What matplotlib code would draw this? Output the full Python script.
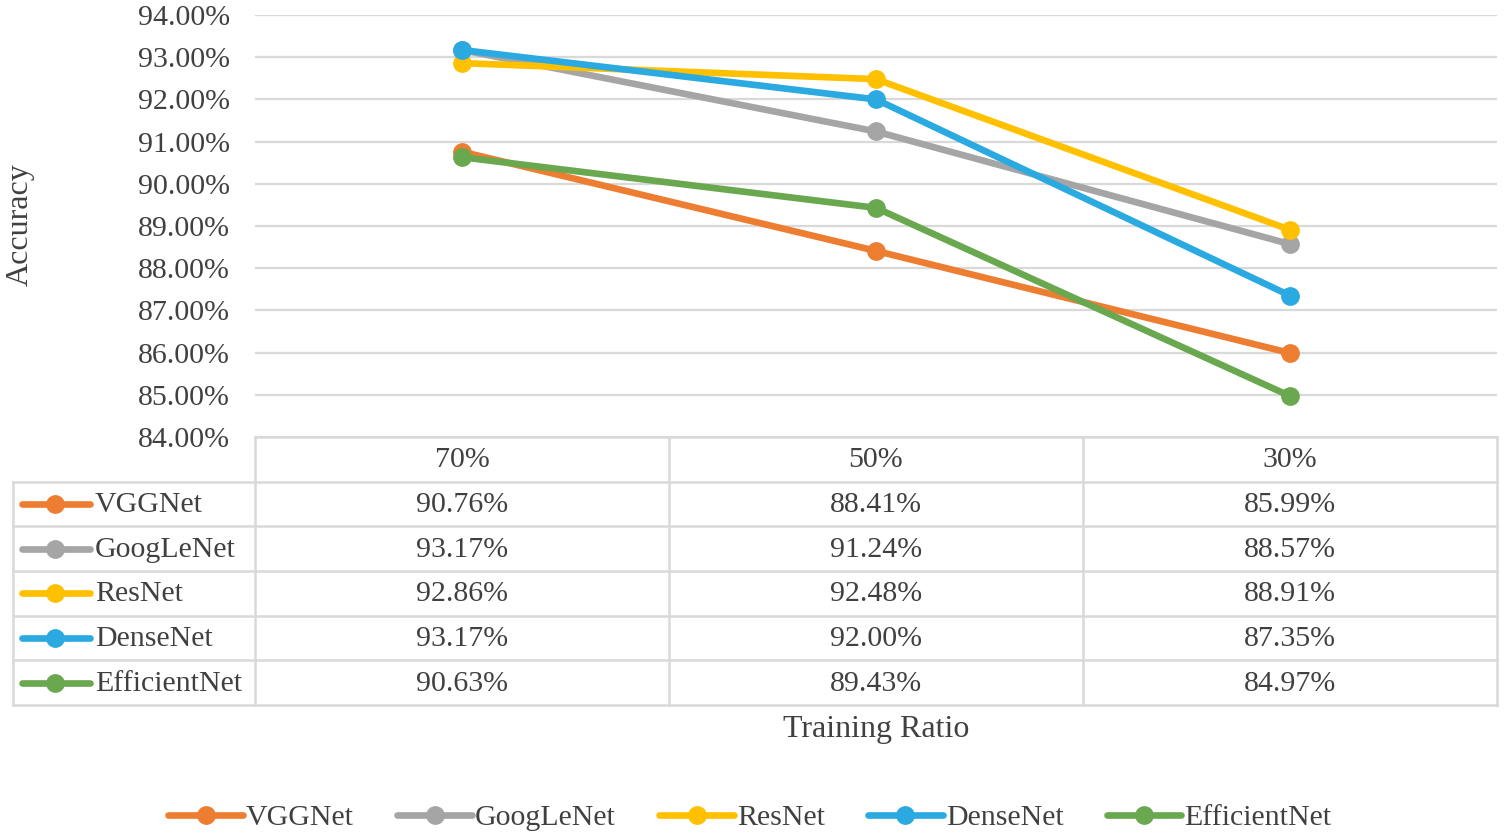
import matplotlib
matplotlib.use("Agg")
import matplotlib.pyplot as plt
from matplotlib.lines import Line2D

plt.rcParams['font.family'] = ['Liberation Serif', 'DejaVu Serif']

categories = ["70%", "50%", "30%"]
models = ["VGGNet", "GoogLeNet", "ResNet", "DenseNet", "EfficientNet"]
vggnet = [90.76, 88.41, 85.99]
googlenet = [93.17, 91.24, 88.57]
resnet = [92.86, 92.48, 88.91]
densenet = [93.17, 92.00, 87.35]
efficientnet = [90.63, 89.43, 84.97]
series = [vggnet, googlenet, resnet, densenet, efficientnet]
colors = ["#ED7D31", "#A5A5A5", "#FFC000", "#2BA9E1", "#6AA84F"]
yticks = [84, 85, 86, 87, 88, 89, 90, 91, 92, 93, 94]

W, H = 1504, 839
fig = plt.figure(figsize=(W / 100, H / 100), dpi=100)
txt_color = "#404040"
grid_color = "#D9D9D9"
fs = 21.5
lw = 4.8
ms = 12.5

def fx(px):
    return px / W

def fy(py):
    return 1 - py / H

left, right = 255, 1497
top, bottom = 15, 437
ax = fig.add_axes([fx(left), fy(bottom), fx(right) - fx(left), fy(top) - fy(bottom)])
x = list(range(len(categories)))
for name, vals, c in zip(models, series, colors):
    ax.plot(x, vals, color=c, lw=lw, marker='o', ms=ms, label=name,
            solid_capstyle='round', solid_joinstyle='round')
ax.set_xlim(-0.5, len(categories) - 0.5)
ax.set_ylim(84, 94)
ax.set_yticks(yticks)
ax.set_yticklabels([f"{v:.2f}%" for v in yticks], fontsize=fs, color=txt_color)
ax.set_xticks([])
ax.tick_params(axis='y', length=0, pad=18)
for s in ax.spines.values():
    s.set_visible(False)
ax.grid(axis='y', color=grid_color, lw=1.6)
ax.set_axisbelow(True)

# data table
tb_top, tb_bot = 437, 705
tax = fig.add_axes([fx(left), fy(tb_bot), fx(right) - fx(left), fy(tb_top) - fy(tb_bot)])
tax.set_xlim(-0.5, len(categories) - 0.5)
nrows = len(models) + 1
tax.set_ylim(nrows, 0)
tax.axis('off')
colw = (right - left) / len(categories)

def dx(px):
    return (px - left) / colw - 0.5

xl = dx(13)
xr = len(categories) - 0.5
lk = dict(color=grid_color, lw=1.8, clip_on=False, solid_capstyle='projecting')
tax.plot([-0.5, xr], [0, 0], **lk)
for r in range(1, nrows + 1):
    tax.plot([xl, xr], [r, r], **lk)
tax.plot([xl, xl], [1, nrows], **lk)
for cx in [i - 0.5 for i in range(len(categories) + 1)]:
    tax.plot([cx, cx], [0, nrows], **lk)
for i, cat in enumerate(categories):
    tax.text(i, 0.52, cat, ha='center', va='center', fontsize=fs, color=txt_color)
for r, (name, vals, c) in enumerate(zip(models, series, colors)):
    yy = r + 1.5
    tax.plot([dx(22), dx(90)], [yy, yy], color=c, lw=lw, clip_on=False,
             solid_capstyle='round')
    tax.plot([dx(55)], [yy], marker='o', ms=ms, color=c, clip_on=False)
    tax.text(dx(95), yy + 0.02, name, ha='left', va='center', fontsize=fs, color=txt_color)
    for i, v in enumerate(vals):
        tax.text(i, yy + 0.02, f"{v:.2f}%", ha='center', va='center', fontsize=fs, color=txt_color)

fig.text(fx(876), fy(730), "Training Ratio", ha='center', va='center', fontsize=23, color=txt_color)
fig.text(fx(20), fy(225), "Accuracy", ha='center', va='center', rotation=90, fontsize=23, color=txt_color)

handles = [Line2D([0], [0], color=c, lw=lw, marker='o', ms=ms, solid_capstyle='round') for c in colors]
fig.legend(handles, models, loc='center', bbox_to_anchor=(fx(750), fy(818)), ncol=5,
           frameon=False, fontsize=fs, labelcolor=txt_color, handlelength=2.5,
           handletextpad=0.1, columnspacing=1.45)

fig.savefig("out.png", dpi=100)
